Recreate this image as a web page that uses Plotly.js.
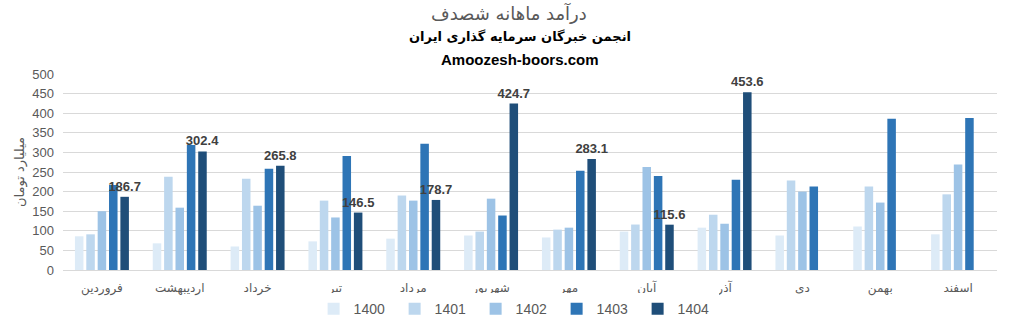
<!DOCTYPE html>
<html>
<head>
<meta charset="utf-8">
<script src="https://cdn.plot.ly/plotly-3.0.1.min.js"></script>
<style>html,body{margin:0;padding:0;background:#fff;}#chart{width:1012px;height:331px;}</style>
</head>
<body>
<div id="chart"></div>
<script>
const months = ["فروردین","اردیبهشت","خرداد","تیر","مرداد","شهریور","مهر","آبان","آذر","دی","بهمن","اسفند"];
const years = ["1400","1401","1402","1403","1404"];
const v1400 = [86, 68, 60, 73, 80, 88, 83, 98, 108, 88, 111, 91];
const v1401 = [91, 238, 233, 177, 190, 98, 103, 116, 141, 228, 213, 193];
const v1402 = [150, 159, 164, 134, 177, 182, 108, 263, 118, 200, 172, 269];
const v1403 = [217, 319, 258, 291, 322, 139, 253, 240, 230, 213, 386, 388];
const v1404 = [186.7, 302.4, 265.8, 146.5, 178.7, 424.7, 283.1, 115.6, 453.6, null, null, null];
const colors = ["#DDEBF7","#BDD7EE","#9DC3E6","#2E75B6","#1F4E79"];
const series = [v1400, v1401, v1402, v1403, v1404];

const traces = series.map((vals, i) => {
  const t = {
    type: "bar",
    name: years[i],
    x: months,
    y: vals,
    marker: {color: colors[i]},
    hoverinfo: "x+y+name"
  };
  if (i === 4) {
    t.text = vals.map(v => v == null ? "" : v.toFixed(1));
    t.textposition = "outside";
    t.constraintext = "none";
    t.cliponaxis = false;
    t.textfont = {family: "Liberation Sans, Arial, sans-serif", size: 13, color: "#404040", weight: "bold"};
  }
  return t;
});

const layout = {
  width: 1012, height: 331,
  margin: {l: 63, r: 15, t: 74, b: 61, autoexpand: false},
  paper_bgcolor: "#fff", plot_bgcolor: "#fff",
  barmode: "group",
  bargap: 0.27,
  bargroupgap: 0.25,
  showlegend: true,
  legend: {orientation: "h", xref: "container", yref: "container", x: 0.51, xanchor: "center", y: 0.066, yanchor: "middle",
           font: {family: "Liberation Sans, Arial, sans-serif", size: 14, color: "#595959"},
           entrywidth: 36, entrywidthmode: "pixels", traceorder: "normal"},
  xaxis: {
    type: "category",
    automargin: false,
    showgrid: false,
    showline: true, linecolor: "#d9d9d9", linewidth: 1,
    ticks: "",
    ticklabelstandoff: 7,
    tickfont: {family: "DejaVu Sans, sans-serif", size: 12, color: "#595959"},
    fixedrange: true
  },
  yaxis: {
    automargin: false,
    range: [0, 500],
    dtick: 50,
    showgrid: true, gridcolor: "#d9d9d9", gridwidth: 1,
    zeroline: false,
    showline: false,
    ticks: "",
    ticklabelstandoff: 8,
    tickfont: {family: "Liberation Sans, Arial, sans-serif", size: 13, color: "#595959"},
    title: {text: "میلیارد تومان", font: {family: "DejaVu Sans, sans-serif", size: 13, color: "#595959"}, standoff: 4},
    fixedrange: true
  },
  annotations: [
    {text: "درآمد ماهانه شصدف", xref: "paper", yref: "paper", x: 0.478, y: 1, yshift: 61, xanchor: "center", yanchor: "middle",
     showarrow: false, font: {family: "DejaVu Sans, sans-serif", size: 18, color: "#595959"}},
    {text: "<b>انجمن خبرگان سرمایه گذاری ایران</b>", xref: "paper", yref: "paper", x: 0.489, y: 1, yshift: 38, xanchor: "center", yanchor: "middle",
     showarrow: false, font: {family: "DejaVu Sans, sans-serif", size: 13, color: "#000"}},
    {text: "<b>Amoozesh-boors.com</b>", xref: "paper", yref: "paper", x: 0.489, y: 1, yshift: 15, xanchor: "center", yanchor: "middle",
     showarrow: false, font: {family: "Liberation Sans, Arial, sans-serif", size: 15, color: "#000"}}
  ]
};

Plotly.newPlot("chart", traces, layout, {displayModeBar: false, staticPlot: true});
</script>
</body>
</html>
